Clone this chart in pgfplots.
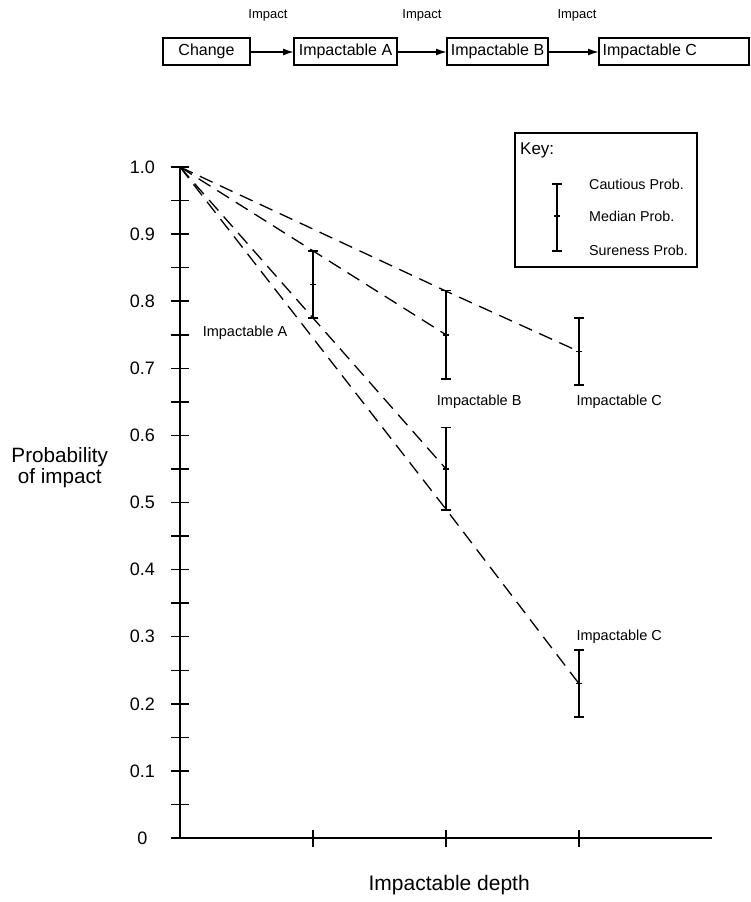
\documentclass[border=0pt]{standalone}
\usepackage{fontspec}
\setmainfont{Liberation Sans}
\usepackage{pgfplots}
\pgfplotsset{compat=1.18}
\usetikzlibrary{arrows.meta}
\newcommand{\fs}[1]{\fontsize{#1}{#1}\selectfont}
\begin{document}
\begin{tikzpicture}
\path (0,0) rectangle (751pt,-902pt);
% flow diagram
\begin{scope}[line width=1.3pt]
\draw (163pt,-38pt) rectangle (250pt,-65pt);
\node[font=\fs{16}] at (206.5pt,-51.5pt) {Change};
\draw (294pt,-38pt) rectangle (397pt,-65pt);
\node[font=\fs{16}] at (345.5pt,-51.5pt) {Impactable A};
\draw (447pt,-38pt) rectangle (548pt,-65pt);
\node[font=\fs{16}] at (497.5pt,-51.5pt) {Impactable B};
\draw (599pt,-38pt) rectangle (749pt,-65pt);
\node[font=\fs{16}, anchor=west, inner sep=0pt] at (602pt,-51.5pt) {Impactable C};
\draw[-{Latex[length=11pt,width=7pt]}, line width=1.6pt] (250pt,-52pt) -- (294pt,-52pt);
\draw[-{Latex[length=11pt,width=7pt]}, line width=1.6pt] (397pt,-52pt) -- (447pt,-52pt);
\draw[-{Latex[length=11pt,width=7pt]}, line width=1.6pt] (548pt,-52pt) -- (599pt,-52pt);
\node[font=\fs{13}] at (268pt,-15pt) {Impact};
\node[font=\fs{13}] at (422pt,-15pt) {Impact};
\node[font=\fs{13}] at (577pt,-15pt) {Impact};
\end{scope}
% key
\draw[line width=1.3pt] (515pt,-133pt) rectangle (697pt,-267pt);
\node[font=\fs{17}, anchor=west, inner sep=0pt] at (520pt,-150pt) {Key:};
\draw[line width=1.6pt] (557pt,-184pt) -- (557pt,-251pt);
\draw[line width=1.5pt] (552pt,-184pt) -- (562pt,-184pt);
\draw[line width=1.5pt] (552pt,-251pt) -- (562pt,-251pt);
\draw[line width=1.5pt] (554pt,-216pt) -- (560pt,-216pt);
\node[font=\fs{14.3}, anchor=west, inner sep=0pt] at (589pt,-184pt) {Cautious Prob.};
\node[font=\fs{14.3}, anchor=west, inner sep=0pt] at (589pt,-216pt) {Median Prob.};
\node[font=\fs{14.3}, anchor=west, inner sep=0pt] at (589pt,-250pt) {Sureness Prob.};
\begin{axis}[
  scale only axis, width=532pt, height=671pt,
  at={(180pt,-838pt)}, anchor=south west,
  xmin=0, xmax=4, ymin=0, ymax=1,
  axis lines=left,
  axis line style={line width=1.6pt, -},
  xtick={1,2,3}, xticklabels={},
  ytick={0,0.05,0.1,0.15,0.2,0.25,0.3,0.35,0.4,0.45,0.5,0.55,0.6,0.65,0.7,0.75,0.8,0.85,0.9,0.95,1.0},
  yticklabels={0,,0.1,,0.2,,0.3,,0.4,,0.5,,0.6,,0.7,,0.8,,0.9,,1.0},
  tick align=center,
  major tick length=17pt,
  every major tick/.append style={line width=1.5pt, black},
  x axis line style={-}, y axis line style={-},
  yticklabel style={font=\fs{18}, anchor=center, xshift=-29pt},
  xlabel={Impactable depth},
  xlabel style={font=\fs{21}, at={(axis description cs:0.506,-0.070)}, anchor=center},
  ylabel={Probability\\of impact},
  ylabel style={font=\fs{20.7}, rotate=-90, align=center, at={(axis description cs:-0.226,0.552)}, anchor=center},
  clip=false,
]
\addplot[black, line width=1.3pt, dash pattern=on 14pt off 8pt] coordinates {(0,1) (2,0.815) (3,0.725)};
\addplot[black, line width=1.3pt, dash pattern=on 14pt off 8pt] coordinates {(0,1) (1,0.875) (2,0.75)};
\addplot[black, line width=1.3pt, dash pattern=on 14pt off 8pt] coordinates {(0,1) (1,0.775) (2,0.55)};
\addplot[black, line width=1.3pt, dash pattern=on 14pt off 8pt] coordinates {(0,1) (2,0.49) (3,0.23)};
\addplot[black, only marks, mark=-, mark size=3pt, mark options={line width=1.5pt},
  error bars/.cd, y dir=both, y explicit,
  error bar style={line width=1.6pt, solid},
  error mark options={line width=1.5pt, mark size=5pt, rotate=90}]
  coordinates {
  (1,0.825) +- (0,0.05)
  (2,0.75) +- (0,0.066)
  (3,0.725) +- (0,0.05)
  (2,0.55) += (0,0.062) -= (0,0.061)
  (3,0.23) +- (0,0.05)
};
\node[font=\fs{14.5}, anchor=west, inner sep=0pt] at (axis cs:0.17,0.753) {Impactable A};
\node[font=\fs{14.5}, anchor=west, inner sep=0pt] at (axis cs:1.93,0.65) {Impactable B};
\node[font=\fs{14.5}, anchor=west, inner sep=0pt] at (axis cs:2.98,0.65) {Impactable C};
\node[font=\fs{14.5}, anchor=west, inner sep=0pt] at (axis cs:2.98,0.30) {Impactable C};
\end{axis}
\end{tikzpicture}
\end{document}
